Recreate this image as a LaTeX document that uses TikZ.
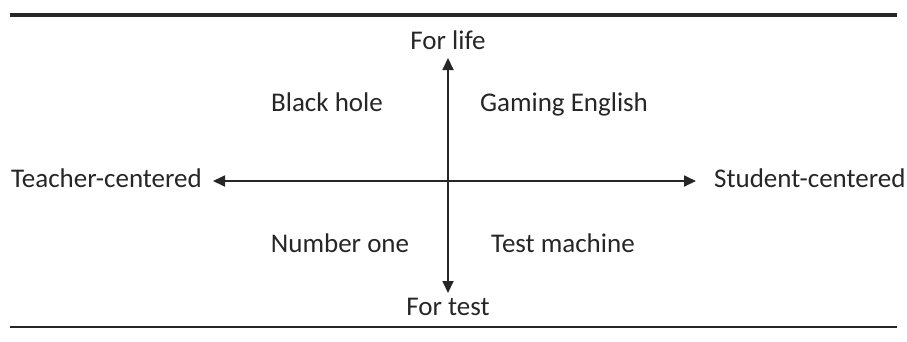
\documentclass[tikz,border=0pt]{standalone}
\usepackage{fontspec}
\setmainfont{Carlito}
\usetikzlibrary{arrows.meta}
\begin{document}
\begin{tikzpicture}[x=1pt,y=-1pt,
  lbl/.style={font=\fontsize{27}{31}\selectfont, text=black!85, inner sep=0pt},
  axis/.style={line width=1.8pt, draw=black!85, {Triangle[length=12pt,width=11pt]}-{Triangle[length=12pt,width=11pt]}},
  rule/.style={draw=black!85}]
\useasboundingbox (0,0) rectangle (907,341);
\coordinate (tl) at (10,15);
\coordinate (tr) at (897,15);
\coordinate (bl) at (10,327);
\coordinate (br) at (897,327);
\draw[rule, line width=4pt] (tl) -- (tr);
\draw[rule, line width=1.8pt] (bl) -- (br);
\node[lbl, anchor=base] (life) at (448,49) {For life};
\node[lbl, anchor=base] (test) at (448,315) {For test};
\node[lbl, anchor=base east] (teacher) at (202,187) {Teacher-centered};
\node[lbl, anchor=base west] (student) at (714,187) {Student-centered};
\node[lbl, anchor=base] (bh) at (327,111) {Black hole};
\node[lbl, anchor=base] (ge) at (564,111) {Gaming English};
\node[lbl, anchor=base] (no) at (340,252) {Number one};
\node[lbl, anchor=base] (tm) at (563,252) {Test machine};
\coordinate (vt) at (448,58);
\coordinate (vb) at (448,293);
\coordinate (hl) at (213,181);
\coordinate (hr) at (696,181);
\draw[axis] (vb) -- (vt);
\draw[axis] (hl) -- (hr);
\end{tikzpicture}
\end{document}
